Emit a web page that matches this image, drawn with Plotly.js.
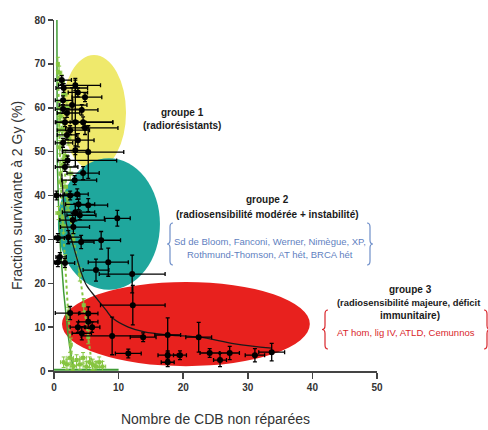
<!DOCTYPE html>
<html>
<head>
<meta charset="utf-8">
<script src="https://cdn.plot.ly/plotly-3.0.1.min.js"></script>
<style>html,body{margin:0;padding:0;background:#fff;}#chart{width:488px;height:430px;}</style>
</head>
<body>
<div id="chart"></div>
<script>
// ---- Data ----
// Black points (cell lines): x = unrepaired DSB, y = survival fraction at 2 Gy (%)
const ptX = [1.2,3.3,1.5,3.7,4.8,1.4,2.8,1.4,4.3,2.0,3.3,4.5,1.7,4.8,2.5,2.0,3.7,1.4,3.3,5.3,2.1,1.7,4.5,3.2,2.5,3.6,
             0.4,5.3,3.3,9.8,2.9,3.0,0.6,2.2,4.2,7.3,0.6,1.7,8.4,6.5,12.1,0.9,3.8,4.0,
             12.2,2.5,5.3,5.3,5.9,3.7,4.3,9.0,13.8,11.5,17.6,22.4,17.6,19.5,17.6,24.1,25.7,27.2,31.1,33.7];
const ptY = [66.3,65.1,64.5,63.5,62.4,61.7,60.6,59.7,59.5,58.8,56.7,56.7,56.7,55.4,54.9,53.8,52.6,52.0,50.3,49.9,48.0,46.5,45.1,43.5,40.0,40.3,
             40.0,37.8,36.2,34.8,34.4,32.8,30.3,30.5,29.4,29.8,24.8,24.6,24.8,23.0,22.1,26.0,38.0,35.5,
             15.0,13.2,13.1,11.2,10.0,10.0,8.6,8.0,7.7,4.0,8.2,7.7,3.6,3.6,2.0,4.1,2.5,4.1,3.6,4.3];
const ptXplus = [1.5,3.9,3.7,1.5,2.6,1.5,2.3,3.0,2.5,2.0,5.8,4.6,2.0,5.1,3.0,1.5,2.5,1.5,2.0,5.5,7.6,2.0,2.5,3.4,1.5,1.7,
                 1.0,3.0,3.0,2.0,5.0,2.5,1.0,2.0,2.0,3.0,1.0,1.5,3.1,2.0,5.1,1.0,2.5,2.5,
                 5.0,1.5,1.5,1.5,1.2,1.2,1.5,4.8,2.0,2.0,2.0,2.0,1.5,1.0,1.0,1.5,1.0,1.5,1.5,2.0];
const ptXminus = [1.0,2.6,1.2,1.5,2.0,1.2,2.0,1.2,2.0,1.5,3.0,2.0,1.5,3.0,2.0,1.5,2.0,1.2,2.0,4.0,1.5,1.5,2.5,2.0,1.5,2.0,
                  0.4,2.0,2.0,2.0,2.0,2.0,0.5,2.0,2.0,3.0,0.5,1.5,3.1,2.0,5.1,0.6,2.0,2.0,
                  5.0,2.3,1.5,1.5,1.2,1.2,1.5,4.8,2.0,2.0,2.0,2.0,1.5,1.0,1.0,1.5,1.0,1.5,1.5,2.0];
const ptYerr = [1.0,1.2,1.0,1.0,1.0,1.0,4.0,1.0,1.2,1.0,10.0,1.2,1.0,1.5,1.0,1.0,1.5,1.0,1.0,6.0,1.0,1.0,1.5,1.0,1.0,1.2,
                1.0,1.5,2.0,1.8,1.5,1.5,1.0,1.5,1.5,2.0,1.0,1.0,3.2,2.5,4.3,1.0,1.2,1.0,
                4.5,1.5,1.5,1.5,1.2,1.2,1.5,4.3,1.0,1.0,3.9,3.4,1.0,1.0,1.0,1.0,1.5,1.5,1.5,2.0];
// highlighted point (red)
const redX = [5.1];
const redY = [50.8];
// fitted black curve
const curveX = [1.2,1.6,2.0,2.6,3.4,4.2,5.0,6.4,8.0,9.1,11.5,14.0,18.0,22.6,28.0,33.7];
const curveY = [45,37,33,30.5,26.4,22.5,19.6,16.9,14.0,12.0,10.0,8.9,8.2,7.7,6.2,5.2];
// green series (other cell types)
const gDarkX = [0.45,0.45,0.5,0.7,1.0,1.5,2.2,3.0];
const gDarkY = [80,60,48,38,28,18,8,0];
const gLeftX = [0.6,0.8,1.0,1.3,1.7,2.2,2.6,2.9];
const gLeftY = [70,55,45,35,25,13,6,0];
const gRightX = [1.0,1.5,2.2,3.0,4.0,4.6,5.3,6.0];
const gRightY = [60,48,38,30,22,15,7.7,0];
const gBotX = [1.5,2.0,2.5,3.0,3.5,4.0,4.5,5.0,5.5,6.0,6.5,7.0,7.5];
const gBotY = [2.0,1.5,3.0,1.0,2.5,1.5,3.0,1.0,2.0,1.5,1.0,2.0,1.0];
const gTopX = [0.8,1.2,1.6,2.0,1.0,1.4,2.2,0.9,1.8,1.3,2.5,1.1,1.7,2.0,0.7,1.5];
const gTopY = [68,66,63,60,58,55,53,51,49,47,45,43,42,38,36,33];
const gBaseX = [0,10];
const gBaseY = [0.3,0.3];
// group ellipses [x0, x1, y0, y1] in data units
const ellYellow = [1.24,11.15,45.8,72];
const ellTeal = [0.6,16.4,18.5,48.5];
const ellRed = [1.24,39.6,1.1,20.3];
// tick labels
const xTicks = [0,10,20,30,40,50];
const yTicks = [0,10,20,30,40,50,60,70,80];

// ---- helpers for decorative positions (pixels -> paper) ----
const L = 54, R = 377, T = 20, B = 371;
const px = v => (v - L) / (R - L);
const py = v => (B - v) / (B - T);
function brace(xEdge, yTop, yBot, dir) { // dir=+1 opening to the right ("{"), -1 "}"
  const d = 3 * dir, m = (yTop + yBot) / 2;
  const pts = [
    ['M', xEdge + d, yTop],
    ['Q', xEdge, yTop, xEdge, yTop + 4],
    ['L', xEdge, m - 4],
    ['Q', xEdge, m, xEdge - d, m],
    ['Q', xEdge, m, xEdge, m + 4],
    ['L', xEdge, yBot - 4],
    ['Q', xEdge, yBot, xEdge + d, yBot]
  ];
  return pts.map(p => {
    if (p[0] === 'Q') return 'Q ' + px(p[1]) + ' ' + py(p[2]) + ' ' + px(p[3]) + ' ' + py(p[4]);
    return p[0] + ' ' + px(p[1]) + ' ' + py(p[2]);
  }).join(' ');
}

const lightG = '#86c540', darkG = '#3f9b35';

const traces = [
  {x: gBaseX, y: gBaseY, mode: 'lines', line: {color: darkG, width: 2}, hoverinfo: 'skip', showlegend: false},
  {x: gDarkX, y: gDarkY, mode: 'lines', line: {color: darkG, width: 1.5}, hoverinfo: 'skip', showlegend: false},
  {x: gLeftX, y: gLeftY, mode: 'lines+markers', line: {color: lightG, width: 2, dash: 'dot'},
   marker: {color: lightG, size: 4, symbol: 'square'},
   error_y: {type: 'constant', value: 1.5, color: lightG, thickness: 1, width: 2}, hoverinfo: 'skip', showlegend: false},
  {x: gRightX, y: gRightY, mode: 'lines+markers', line: {color: lightG, width: 2, dash: 'dot'},
   marker: {color: lightG, size: 4, symbol: 'square'},
   error_y: {type: 'constant', value: 1.5, color: lightG, thickness: 1, width: 2}, hoverinfo: 'skip', showlegend: false},
  {x: gBotX, y: gBotY, mode: 'markers', marker: {color: lightG, size: 4, symbol: 'square'},
   error_y: {type: 'constant', value: 1.2, color: lightG, thickness: 1, width: 2},
   error_x: {type: 'constant', value: 0.5, color: lightG, thickness: 1, width: 2}, hoverinfo: 'skip', showlegend: false},
  {x: gTopX, y: gTopY, mode: 'markers', marker: {color: lightG, size: 4, symbol: 'square'},
   error_y: {type: 'constant', value: 1.5, color: lightG, thickness: 1, width: 2},
   error_x: {type: 'constant', value: 0.4, color: lightG, thickness: 1, width: 2}, hoverinfo: 'skip', showlegend: false},
  {x: curveX, y: curveY, mode: 'lines', line: {color: '#1a1a1a', width: 1.3, shape: 'spline'}, hoverinfo: 'skip', showlegend: false},
  {x: ptX, y: ptY, mode: 'markers', marker: {color: '#000', size: 6},
   error_x: {type: 'data', symmetric: false, array: ptXplus, arrayminus: ptXminus, color: '#000', thickness: 1.3, width: 2},
   error_y: {type: 'data', array: ptYerr, color: '#000', thickness: 1.3, width: 2},
   showlegend: false},
  {x: redX, y: redY, mode: 'markers', marker: {color: 'rgba(0,0,0,0)', size: 6, symbol: 'square-open', line: {color: '#c0281e', width: 1.5}},
   showlegend: false}
];

const blackF = {family: 'Liberation Sans, Arial, sans-serif', size: 10, color: '#1a1a1a', weight: 'bold'};
const blackS = {family: 'Liberation Sans, Arial, sans-serif', size: 9.4, color: '#1a1a1a', weight: 'bold'};
const blueF = {family: 'Liberation Sans, Arial, sans-serif', size: 9.5, color: '#5f7fbf'};
const redF = {family: 'Liberation Sans, Arial, sans-serif', size: 9.5, color: '#d9262c'};
function ann(text, x, y, font) {
  return {text: text, x: px(x), y: py(y), xref: 'paper', yref: 'paper', showarrow: false,
          xanchor: 'center', yanchor: 'middle', font: font};
}

const layout = {
  width: 488, height: 430,
  margin: {l: L, r: 488 - R, t: T, b: 430 - B},
  paper_bgcolor: '#fff', plot_bgcolor: '#fff',
  font: {family: 'Liberation Sans, Arial, sans-serif', color: '#333'},
  xaxis: {range: [0, 50], tickvals: xTicks, ticktext: xTicks.map(String), showgrid: false, zeroline: false,
          showline: true, linecolor: '#444', linewidth: 1.5, ticks: 'outside', ticklen: 6, tickcolor: '#444', tickwidth: 1.5,
          tickfont: {size: 10, color: '#333', weight: 'bold'},
          title: {text: 'Nombre de CDB non réparées', font: {size: 14, color: '#333'}, standoff: 22}},
  yaxis: {range: [0, 80], tickvals: yTicks, ticktext: yTicks.map(String), showgrid: false, zeroline: false,
          showline: true, linecolor: '#444', linewidth: 1.5, ticks: 'outside', ticklen: 5, tickcolor: '#444', tickwidth: 1.5,
          tickfont: {size: 10, color: '#333', weight: 'bold'},
          title: {text: 'Fraction survivante à 2 Gy (%)', font: {size: 14, color: '#333'}, standoff: 8}},
  shapes: [
    {type: 'circle', xref: 'x', yref: 'y', x0: ellYellow[0], x1: ellYellow[1], y0: ellYellow[2], y1: ellYellow[3],
     fillcolor: '#efe96c', line: {width: 0}, layer: 'below'},
    {type: 'circle', xref: 'x', yref: 'y', x0: ellTeal[0], x1: ellTeal[1], y0: ellTeal[2], y1: ellTeal[3],
     fillcolor: '#1fa79d', line: {width: 0}, layer: 'below'},
    {type: 'circle', xref: 'x', yref: 'y', x0: ellRed[0], x1: ellRed[1], y0: ellRed[2], y1: ellRed[3],
     fillcolor: '#e8211e', line: {width: 0}, layer: 'below'},
    {type: 'path', xref: 'paper', yref: 'paper', path: brace(170, 223, 265, 1), line: {color: '#6f8fc9', width: 1.2}},
    {type: 'path', xref: 'paper', yref: 'paper', path: brace(370, 223, 265, -1), line: {color: '#6f8fc9', width: 1.2}},
    {type: 'path', xref: 'paper', yref: 'paper', path: brace(325, 310, 349, 1), line: {color: '#d9262c', width: 1.2}},
    {type: 'path', xref: 'paper', yref: 'paper', path: brace(487, 310, 349, -1), line: {color: '#d9262c', width: 1.2}}
  ],
  annotations: [
    ann('groupe 1', 182, 112, blackF),
    ann('(radiorésistants)', 182, 125, blackF),
    ann('groupe 2', 267, 200, blackF),
    ann('(radiosensibilité modérée + instabilité)', 267, 214, blackF),
    ann('Sd de Bloom, Fanconi, Werner, Nimègue, XP,', 270, 241, blueF),
    ann('Rothmund-Thomson, AT hét, BRCA hét', 270, 254, blueF),
    ann('groupe 3', 410, 289, blackF),
    ann('(radiosensibilité majeure, déficit', 408, 302, blackS),
    ann('immunitaire)', 410, 315, blackF),
    ann('AT hom, lig IV, ATLD, Cemunnos', 406, 332, redF)
  ]
};

Plotly.newPlot('chart', traces, layout, {displayModeBar: false, staticPlot: true});
</script>
</body>
</html>
